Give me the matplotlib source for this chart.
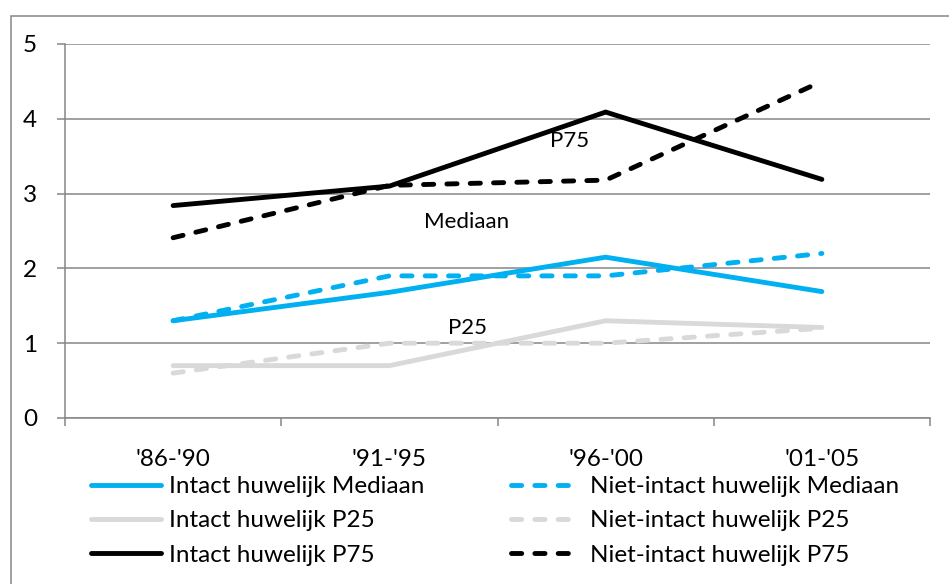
import matplotlib
matplotlib.use("Agg")
import matplotlib.pyplot as plt
from matplotlib.patches import Rectangle

plt.rcParams['font.family'] = ['Lato', 'DejaVu Sans']

categories = ["'86-'90", "'91-'95", "'96-'00", "'01-'05"]
intact_mediaan = [1.3, 1.68, 2.15, 1.69]
niet_mediaan = [1.3, 1.9, 1.9, 2.2]
intact_p25 = [0.7, 0.7, 1.3, 1.21]
niet_p25 = [0.6, 1.0, 1.0, 1.2]
intact_p75 = [2.84, 3.1, 4.09, 3.19]
niet_p75 = [2.41, 3.11, 3.18, 4.5]
yticks = [0, 1, 2, 3, 4, 5]

W, H = 949, 584
fig = plt.figure(figsize=(W / 100, H / 100), dpi=100)
ax = fig.add_axes([65 / W, 1 - 418 / H, (930 - 65) / W, (418 - 44) / H])

BLUE = '#00B0F0'
LGRAY = '#D9D9D9'
BLACK = '#000000'
GRID = '#868686'
LW = 3.5
DASH = (2.1, 2.7)

x = list(range(len(categories)))
series = [
    (intact_mediaan, BLUE, '-', 'Intact huwelijk Mediaan'),
    (intact_p25, LGRAY, '-', 'Intact huwelijk P25'),
    (intact_p75, BLACK, '-', 'Intact huwelijk P75'),
    (niet_mediaan, BLUE, '--', 'Niet-intact huwelijk Mediaan'),
    (niet_p25, LGRAY, '--', 'Niet-intact huwelijk P25'),
    (niet_p75, BLACK, '--', 'Niet-intact huwelijk P75'),
]
order = [1, 4, 0, 3, 2, 5]
handles = {}
for i in order:
    vals, col, ls, lab = series[i]
    if ls == '--':
        ln, = ax.plot(x, vals, color=col, lw=LW, dashes=DASH, dash_capstyle='round',
                      dash_joinstyle='round', label=lab, zorder=3)
    else:
        ln, = ax.plot(x, vals, color=col, lw=LW, solid_capstyle='round',
                      solid_joinstyle='miter', label=lab, zorder=3)
    handles[i] = ln

ax.set_xlim(-0.5, 3.5)
ax.set_ylim(0, 5)
ax.set_yticks(yticks)
ax.set_yticklabels([str(v) for v in yticks])
ax.yaxis.grid(True, color=GRID, lw=1.1)
ax.set_axisbelow(True)
ax.set_xticks(x)
ax.set_xticklabels(categories)
ax.set_xticks([-0.5, 0.5, 1.5, 2.5, 3.5], minor=True)
ax.tick_params(axis='x', which='major', length=0, pad=22, labelsize=17.5)
ax.tick_params(axis='x', which='minor', length=5.5, width=1.1, color=GRID, direction='out')
ax.tick_params(axis='y', length=6, width=1.1, color=GRID, direction='out', pad=14, labelsize=17.5)
for s in ['top', 'right']:
    ax.spines[s].set_visible(False)
for s in ['left', 'bottom']:
    ax.spines[s].set_color(GRID)
    ax.spines[s].set_linewidth(1.1)

ax.text(1.835, 3.70, 'P75', ha='center', va='center', fontsize=16)
ax.text(1.355, 2.62, 'Mediaan', ha='center', va='center', fontsize=16)
ax.text(1.36, 1.20, 'P25', ha='center', va='center', fontsize=16)

# chart border
fig.patches.append(Rectangle((11 / W, -0.2), 1.2, 1 - 16 / H + 0.2, transform=fig.transFigure,
                             fill=False, edgecolor=GRID, lw=1.1, zorder=0))

leg_kw = dict(frameon=False, fontsize=17.5, labelspacing=0.55, borderpad=0,
              borderaxespad=0, loc='upper left')
fig.legend([handles[0], handles[1], handles[2]],
           [series[0][3], series[1][3], series[2][3]],
           bbox_to_anchor=(91 / W, 1 - 476 / H), handlelength=2.9, handletextpad=0.3, **leg_kw)
fig.legend([handles[3], handles[4], handles[5]],
           [series[3][3], series[4][3], series[5][3]],
           bbox_to_anchor=(511 / W, 1 - 476 / H), handlelength=2.63, handletextpad=0.6, **leg_kw)

fig.savefig('out.png', dpi=100)
